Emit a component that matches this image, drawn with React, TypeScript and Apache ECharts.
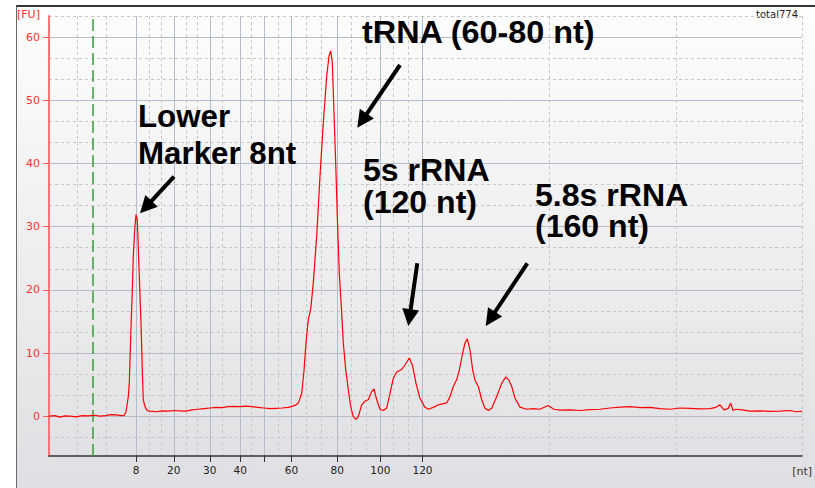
import React, { useEffect, useRef } from 'react';
import * as echarts from 'echarts';

// Migration position (arbitrary time units) vs fluorescence [FU]
const trace: [number, number][] = [
  [20.0, 0.0], [20.6, 0.1], [21.1, -0.15], [21.6, 0.05], [22.1, 0.0], [22.7, -0.1], [23.3, 0.1],
  [23.9, 0.05], [24.5, 0.15], [25.1, 0.0], [25.7, 0.1], [26.2, 0.25], [26.7, 0.2], [27.2, 0.1],
  [27.5, 0.1], [27.7, 0.7], [27.93, 3.1], [28.03, 5.3], [28.17, 12.6], [28.33, 20.0], [28.43, 25.3],
  [28.57, 29.5], [28.7, 31.9], [28.83, 31.1], [29.03, 22.1], [29.2, 14.8], [29.33, 7.3], [29.43, 2.6],
  [29.55, 1.8], [29.67, 1.27], [29.77, 1.0], [29.93, 0.84], [30.1, 0.8], [30.7, 0.7], [31.3, 0.85],
  [31.9, 0.8], [32.5, 0.9], [33.1, 0.85], [33.7, 0.8], [34.3, 1.0], [34.9, 1.1], [35.5, 1.2],
  [36.1, 1.3], [36.7, 1.4], [37.3, 1.35], [37.9, 1.5], [38.5, 1.55], [39.1, 1.5], [39.7, 1.6],
  [40.3, 1.5], [40.9, 1.4], [41.5, 1.3], [42.1, 1.2], [42.7, 1.25], [43.3, 1.3], [43.9, 1.4],
  [44.3, 1.55], [44.7, 1.8], [44.93, 2.1], [45.27, 3.6], [45.5, 7.2], [45.7, 11.6], [45.93, 15.3],
  [46.17, 16.9], [46.43, 21.1], [46.77, 28.5], [47.1, 38.0], [47.43, 46.4], [47.77, 53.8], [48.0, 57.0],
  [48.17, 57.8], [48.33, 56.0], [48.5, 48.0], [48.67, 40.1], [48.83, 31.6], [49.03, 22.6], [49.27, 16.3],
  [49.43, 11.6], [49.67, 7.4], [49.93, 4.2], [50.17, 1.5], [50.43, -0.1], [50.7, -0.5], [50.93, -0.05],
  [51.27, 1.8], [51.6, 2.4], [51.93, 2.6], [52.27, 3.9], [52.5, 4.3], [52.77, 2.6], [53.1, 1.1],
  [53.43, 0.9], [53.77, 1.3], [54.1, 3.6], [54.43, 6.0], [54.77, 7.0], [55.27, 7.4], [55.6, 8.1],
  [56.03, 9.2], [56.37, 7.9], [56.7, 5.2], [57.1, 2.8], [57.6, 1.4], [57.93, 1.1], [58.43, 1.4],
  [58.93, 1.8], [59.77, 2.1], [60.1, 3.1], [60.43, 4.7], [60.77, 5.8], [61.03, 7.3], [61.37, 10.0],
  [61.6, 11.6], [61.83, 12.25], [62.1, 10.5], [62.37, 7.3], [62.6, 5.7], [62.93, 4.7], [63.27, 2.6],
  [63.6, 1.27], [63.93, 0.9], [64.27, 1.27], [64.77, 3.1], [65.27, 5.2], [65.67, 6.2], [66.0, 5.7],
  [66.27, 4.7], [66.6, 2.85], [67.1, 1.43], [67.77, 1.1], [68.43, 1.2], [69.1, 1.1], [69.9, 1.7],
  [70.5, 1.1], [71.1, 0.95], [72.1, 1.0], [73.1, 0.9], [74.1, 1.05], [75.1, 1.1], [76.1, 1.3],
  [77.1, 1.45], [78.1, 1.5], [79.1, 1.35], [80.1, 1.4], [81.1, 1.2], [82.1, 1.1], [83.1, 1.3],
  [84.1, 1.25], [85.1, 1.15], [86.1, 1.2], [86.7, 1.4], [87.1, 1.8], [87.5, 1.0], [87.9, 1.2],
  [88.17, 2.06], [88.4, 0.9], [88.7, 1.1], [89.3, 1.0], [90.1, 0.8], [91.1, 0.85], [92.1, 0.75],
  [93.1, 0.8], [94.1, 0.9], [94.7, 0.7], [95.3, 0.75],
];

// Ladder (size standard) positions and their nt labels
const ladderPos = [28.7, 32.48, 36.08, 39.12, 41.53, 44.25, 48.83, 53.13, 57.35];
const ladderLabels = ['8', '20', '30', '40', '', '60', '80', '100', '120'];
const minorXPos = [22.85, 25.77, 30.03, 31.27, 33.7, 34.87, 37.37, 40.27, 42.93, 45.77, 47.27,
  50.27, 51.77, 54.43, 55.93, 70.03, 82.7, 95.3];
const yTicks = [0, 10, 20, 30, 40, 50, 60];
const yMinor = [-3.333, 3.333, 6.667, 13.333, 16.667, 23.333, 26.667, 33.333, 36.667, 43.333,
  46.667, 53.333, 56.667, 63.333];
const markerCutoff = 24.33;
const xMin = 20;
const xMax = 95.3;
const yMin = -6.3;
const yMax = 63.333;

const annoFont = 'bold 31px "Liberation Sans", Arial, sans-serif';

function label(text: string, x: number, baseline: number, sx = 1.035) {
  return {
    type: 'text',
    x,
    y: baseline - 10.7,
    scaleX: sx,
    style: {
      text,
      font: annoFont,
      fill: '#000',
      textAlign: 'left',
      textVerticalAlign: 'middle',
      align: 'left',
      verticalAlign: 'middle',
    },
    z: 20,
  };
}

function arrow(x1: number, y1: number, x2: number, y2: number) {
  const dx = x2 - x1;
  const dy = y2 - y1;
  const len = Math.hypot(dx, dy);
  const ux = dx / len;
  const uy = dy / len;
  const L = 17;
  const W = 8.5;
  const bx = x2 - ux * L;
  const by = y2 - uy * L;
  return [
    {
      type: 'line',
      shape: { x1, y1, x2: bx + ux * 2, y2: by + uy * 2 },
      style: { stroke: '#000', lineWidth: 4 },
      z: 20,
    },
    {
      type: 'polygon',
      shape: { points: [[x2, y2], [bx - uy * W, by + ux * W], [bx + uy * W, by - ux * W]] },
      style: { fill: '#000' },
      z: 20,
    },
  ];
}

export default function App() {
  const ref = useRef<HTMLDivElement>(null);

  useEffect(() => {
    if (!ref.current) return;
    const chart = echarts.init(ref.current, undefined, { renderer: 'svg' });
    const labelFmt = (v: number) => {
      const i = ladderPos.findIndex((p) => Math.abs(p - v) < 1e-6);
      return i >= 0 ? ladderLabels[i] : '';
    };
    chart.setOption({
      animation: false,
      backgroundColor: 'transparent',
      grid: { left: 49, right: 13, top: 16, bottom: 32, outerBoundsMode: 'none', containLabel: false },
      xAxis: [
        {
          type: 'value',
          min: xMin,
          max: xMax,
          position: 'bottom',
          axisLine: { show: true, onZero: false, lineStyle: { color: '#333', width: 1.5 } },
          axisTick: { show: true, customValues: ladderPos, length: 6, lineStyle: { color: '#333' } },
          axisLabel: {
            show: true,
            customValues: ladderPos,
            formatter: labelFmt,
            color: '#222',
            fontSize: 10.5,
            fontFamily: 'DejaVu Sans',
            margin: 8,
          },
          splitLine: { show: true, lineStyle: { color: '#b3bccb', width: 1 } },
        },
        {
          type: 'value',
          min: xMin,
          max: xMax,
          position: 'top',
          axisLine: { show: false },
          axisTick: { show: false, customValues: minorXPos },
          axisLabel: { show: false, customValues: minorXPos },
          splitLine: { show: true, lineStyle: { color: '#c6c6c8', width: 1, type: [3, 3] } },
        },
      ],
      yAxis: [
        {
          type: 'value',
          min: yMin,
          max: yMax,
          position: 'left',
          axisLine: { show: true, onZero: false, lineStyle: { color: '#ff7373', width: 2 } },
          axisTick: { show: true, customValues: yTicks, length: 6, lineStyle: { color: '#ff5a5a' } },
          axisLabel: {
            show: true,
            customValues: yTicks,
            color: '#ff3030',
            fontSize: 11,
            fontFamily: 'DejaVu Sans',
            margin: 9,
          },
          splitLine: { show: true, lineStyle: { color: '#b3bccb', width: 1 } },
        },
        {
          type: 'value',
          min: yMin,
          max: yMax,
          position: 'right',
          axisLine: { show: false },
          axisTick: { show: false, customValues: yMinor },
          axisLabel: { show: false, customValues: yMinor },
          splitLine: { show: true, lineStyle: { color: '#c6c6c8', width: 1, type: [3, 3] } },
        },
      ],
      series: [
        {
          type: 'line',
          data: trace,
          xAxisIndex: 0,
          yAxisIndex: 0,
          showSymbol: false,
          symbol: 'none',
          lineStyle: { color: '#ff0000', width: 1.2 },
          z: 5,
          markLine: {
            silent: true,
            symbol: ['none', 'none'],
            label: { show: false },
            lineStyle: { color: '#3a9b3a', type: [12, 5], width: 1.5 },
            data: [{ xAxis: markerCutoff }],
          },
        },
      ],
      graphic: [
        {
          type: 'text',
          x: 17,
          y: 9,
          style: { text: '[FU]', font: '11px "DejaVu Sans"', fill: '#ff3030', textAlign: 'left', textVerticalAlign: 'top', align: 'left', verticalAlign: 'top' },
        },
        {
          type: 'text',
          x: 812,
          y: 466,
          style: { text: '[nt]', font: '11px "DejaVu Sans"', fill: '#333', textAlign: 'right', textVerticalAlign: 'top', align: 'right', verticalAlign: 'top' },
        },
        {
          type: 'text',
          x: 798,
          y: 9,
          style: { text: 'total774', font: '10px "DejaVu Sans"', fill: '#222', textAlign: 'right', textVerticalAlign: 'top', align: 'right', verticalAlign: 'top' },
        },
        label('Lower', 138, 127, 1.01),
        label('Marker 8nt', 138, 164.5, 1.01),
        label('tRNA (60-80 nt)', 362, 42.5, 1.045),
        label('5s rRNA', 363, 181),
        label('(120 nt)', 363, 213),
        label('5.8s rRNA', 535, 206),
        label('(160 nt)', 535, 237),
        ...arrow(174, 176.7, 140, 213.3),
        ...arrow(400, 65, 357.3, 127.7),
        ...arrow(417.3, 263.3, 408.3, 326),
        ...arrow(527.3, 263.3, 485.7, 326),
      ],
    });
    return () => chart.dispose();
  }, []);

  return (
    <div style={{ position: 'fixed', left: 0, top: 0, width: 815, height: 488, background: '#fff', overflow: 'hidden' }}>
      <div
        style={{
          position: 'absolute',
          left: 16,
          top: 5,
          width: 815,
          height: 500,
          boxSizing: 'border-box',
          borderTop: '2px solid #353535',
          borderLeft: '1.5px solid #6a6a6a',
          background: 'linear-gradient(to bottom, #fdfdfd 0%, #eeeef0 50%, #dedee2 100%)',
        }}
      />
      <div ref={ref} style={{ position: 'absolute', left: 0, top: 0, width: 815, height: 488 }} />
    </div>
  );
}
